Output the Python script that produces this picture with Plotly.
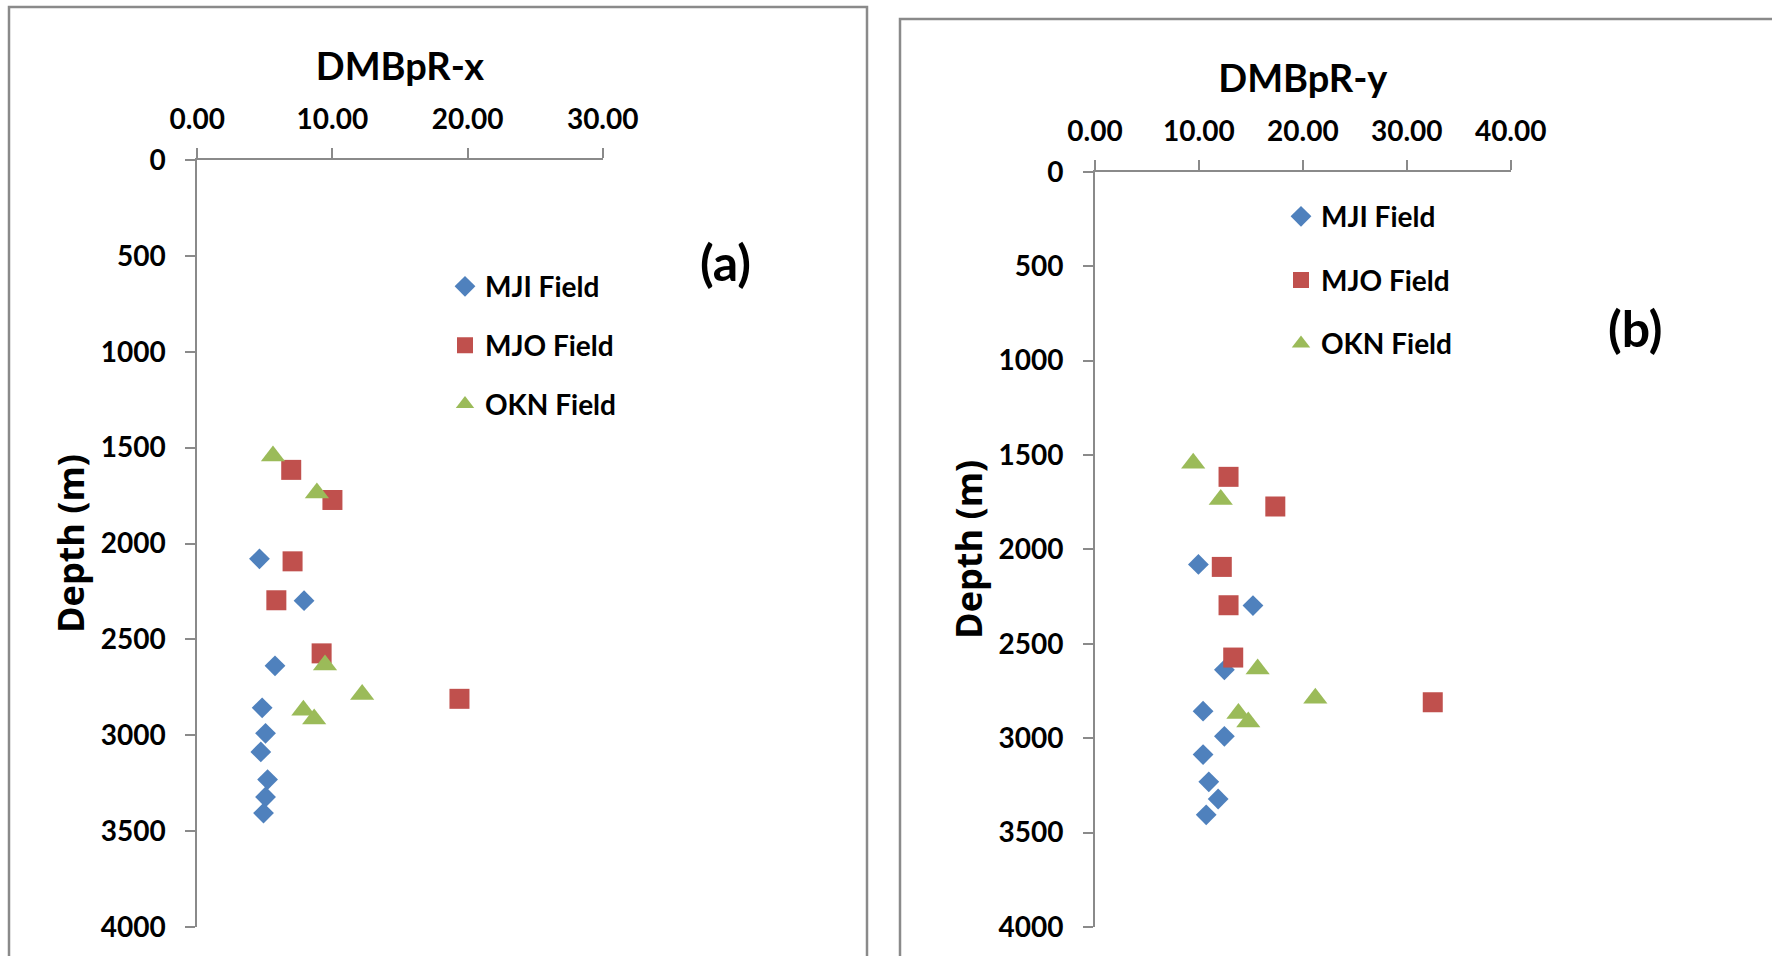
import plotly.graph_objects as go

# ---------------- data ----------------
fields = ["MJI Field", "MJO Field", "OKN Field"]

depth_mji = [2080, 2298, 2638, 2857, 2990, 3087, 3231, 3322, 3406]
x_mji = [4.60, 7.90, 5.75, 4.80, 5.05, 4.70, 5.20, 5.05, 4.90]
y_mji = [9.95, 15.20, 12.45, 10.40, 12.45, 10.40, 10.95, 11.85, 10.70]

depth_mjo = [1616, 1773, 2093, 2296, 2573, 2810]
x_mjo = [6.95, 10.00, 7.05, 5.85, 9.20, 19.40]
y_mjo = [12.85, 17.35, 12.20, 12.85, 13.30, 32.50]

depth_okn = [1544, 1736, 2633, 2788, 2869, 2915]
x_okn = [5.60, 8.85, 9.45, 12.20, 7.85, 8.65]
y_okn = [9.45, 12.10, 15.65, 21.20, 13.80, 14.75]

W, H = 1772, 956
GREY = "#8a8a8a"
TICKFONT = dict(family="Lato", size=28, color="black", weight="bold")
LEGFONT = dict(family="Lato", size=28, color="black", weight="bold")

styles = [
    dict(symbol="diamond", size=16, color="#4F81BD"),
    dict(symbol="square", size=20, color="#C0504D"),
    dict(symbol="triangle-up", size=21, color="#9BBB59"),
]

fig = go.Figure()

panel_a = [(x_mji, depth_mji), (x_mjo, depth_mjo), (x_okn, depth_okn)]
panel_b = [(y_mji, depth_mji), (y_mjo, depth_mjo), (y_okn, depth_okn)]

for i, (xs, ds) in enumerate(panel_a):
    st = styles[i]
    fig.add_trace(go.Scatter(
        x=xs, y=ds, mode="markers", name=fields[i],
        xaxis="x", yaxis="y", legend="legend", legendgroup="a%d" % i,
        marker=dict(symbol=st["symbol"], size=st["size"], color=st["color"],
                    line=dict(width=0)),
    ))
for i, (xs, ds) in enumerate(panel_b):
    st = styles[i]
    fig.add_trace(go.Scatter(
        x=xs, y=ds, mode="markers", name=fields[i],
        xaxis="x2", yaxis="y2", legend="legend2", legendgroup="b%d" % i,
        marker=dict(symbol=st["symbol"], size=st["size"], color=st["color"],
                    line=dict(width=0)),
    ))

def xax(domain, rng, title):
    return dict(
        domain=domain, range=rng, side="top", dtick=10, tick0=0,
        tickformat=".2f", ticks="outside", ticklen=10, tickwidth=2,
        tickcolor=GREY, showline=True, linecolor=GREY, linewidth=2,
        showgrid=False, zeroline=False, tickfont=TICKFONT,
        ticklabelstandoff=8, automargin=False,
        title=dict(text=title, font=dict(family="Lato", size=38, color="black",
                                         weight="bold"), standoff=8),
        fixedrange=True,
    )

def yax(domain, title):
    return dict(
        domain=domain, range=[4000, 0], dtick=500, tick0=0,
        ticks="outside", ticklen=10, tickwidth=2, tickcolor=GREY,
        showline=True, linecolor=GREY, linewidth=2, showgrid=False,
        zeroline=False, tickfont=TICKFONT, ticklabelstandoff=14,
        automargin=False,
        title=dict(text=title, font=dict(family="Open Sans", size=36,
                                         color="black", weight="bold"),
                   standoff=5),
        fixedrange=True,
    )

fig.update_layout(
    template="none",
    width=W, height=H,
    margin=dict(l=0, r=0, t=0, b=0, pad=0, autoexpand=False),
    paper_bgcolor="white", plot_bgcolor="white",
    xaxis=dict(xax([197.3 / W, 602.7 / W], [0, 30], "DMBpR-x"), anchor="y"),
    yaxis=dict(yax([1 - 927 / H, 1 - 160 / H], "Depth (m)"), anchor="x"),
    xaxis2=dict(xax([1095 / W, 1510.7 / W], [0, 40], "DMBpR-y"), anchor="y2"),
    yaxis2=dict(yax([1 - 927 / H, 1 - 171.7 / H], "Depth (m)"), anchor="x2"),
    legend=dict(x=445 / W, y=1 - 261.6 / H, xanchor="left", yanchor="top",
                font=LEGFONT, bgcolor="rgba(0,0,0,0)", borderwidth=0,
                tracegroupgap=19.5, itemsizing="trace"),
    legend2=dict(x=1281 / W, y=1 - 191.6 / H, xanchor="left", yanchor="top",
                 font=LEGFONT, bgcolor="rgba(0,0,0,0)", borderwidth=0,
                 tracegroupgap=24.2, itemsizing="trace"),
    showlegend=True,
    shapes=[
        dict(type="rect", xref="paper", yref="paper", layer="below",
             x0=9 / W, x1=867 / W, y0=-0.05, y1=1 - 7 / H,
             line=dict(color=GREY, width=2.5), fillcolor="rgba(0,0,0,0)"),
        dict(type="rect", xref="paper", yref="paper", layer="below",
             x0=900 / W, x1=1.05, y0=-0.05, y1=1 - 19 / H,
             line=dict(color=GREY, width=2.5), fillcolor="rgba(0,0,0,0)"),
    ],
    annotations=[
        dict(text="(a)", xref="paper", yref="paper", x=725 / W, y=1 - 261.6 / H,
             xanchor="center", yanchor="middle", showarrow=False,
             font=dict(family="Lato", size=50, color="black", weight="bold")),
        dict(text="(b)", xref="paper", yref="paper", x=1635 / W, y=1 - 327.6 / H,
             xanchor="center", yanchor="middle", showarrow=False,
             font=dict(family="Lato", size=50, color="black", weight="bold")),
    ],
)

fig.write_html("out.html", config={"displayModeBar": False})
